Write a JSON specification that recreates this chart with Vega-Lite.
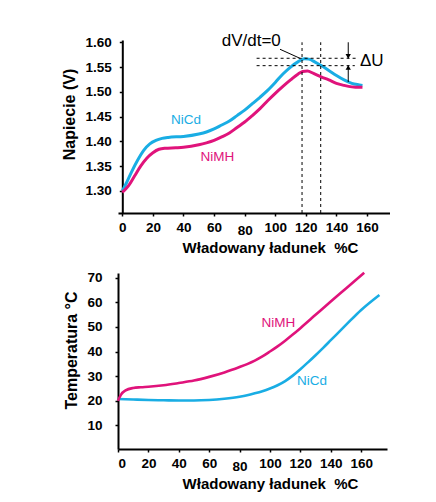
{
  "$schema": "https://vega.github.io/schema/vega-lite/v6.json",
  "background": "white",
  "padding": {"left": 61, "top": 31, "right": 0, "bottom": 0},
  "spacing": 12,
  "config": {
    "view": {"stroke": null},
    "font": "Liberation Sans",
    "axis": {
      "domainColor": "black", "domainWidth": 2, "tickColor": "black", "tickWidth": 1.5, "tickSize": 3,
      "labelFont": "Liberation Sans", "labelFontSize": 13.5, "labelFontWeight": "bold", "labelColor": "black",
      "titleFont": "Liberation Sans", "titleFontWeight": "bold", "titleColor": "black", "grid": false
    }
  },
  "datasets": {
    "voltage": [
      {"x": 0, "y": 1.300, "s": "NiCd"}, {"x": 3, "y": 1.318, "s": "NiCd"}, {"x": 6, "y": 1.338, "s": "NiCd"}, {"x": 10, "y": 1.362, "s": "NiCd"}, {"x": 14, "y": 1.382, "s": "NiCd"}, {"x": 18, "y": 1.395, "s": "NiCd"}, {"x": 22, "y": 1.402, "s": "NiCd"}, {"x": 26, "y": 1.406, "s": "NiCd"}, {"x": 30, "y": 1.408, "s": "NiCd"}, {"x": 40, "y": 1.410, "s": "NiCd"}, {"x": 50, "y": 1.415, "s": "NiCd"}, {"x": 55, "y": 1.419, "s": "NiCd"}, {"x": 60, "y": 1.425, "s": "NiCd"}, {"x": 65, "y": 1.433, "s": "NiCd"}, {"x": 70, "y": 1.441, "s": "NiCd"}, {"x": 75, "y": 1.452, "s": "NiCd"}, {"x": 80, "y": 1.463, "s": "NiCd"}, {"x": 85, "y": 1.476, "s": "NiCd"}, {"x": 90, "y": 1.489, "s": "NiCd"}, {"x": 95, "y": 1.503, "s": "NiCd"}, {"x": 100, "y": 1.519, "s": "NiCd"}, {"x": 105, "y": 1.536, "s": "NiCd"}, {"x": 110, "y": 1.550, "s": "NiCd"}, {"x": 115, "y": 1.561, "s": "NiCd"}, {"x": 119, "y": 1.567, "s": "NiCd"}, {"x": 122, "y": 1.566, "s": "NiCd"}, {"x": 126, "y": 1.560, "s": "NiCd"}, {"x": 130, "y": 1.553, "s": "NiCd"}, {"x": 135, "y": 1.543, "s": "NiCd"}, {"x": 140, "y": 1.533, "s": "NiCd"}, {"x": 145, "y": 1.524, "s": "NiCd"}, {"x": 150, "y": 1.517, "s": "NiCd"}, {"x": 155, "y": 1.514, "s": "NiCd"}, {"x": 157, "y": 1.513, "s": "NiCd"},
      {"x": 0, "y": 1.297, "s": "NiMH"}, {"x": 4, "y": 1.310, "s": "NiMH"}, {"x": 8, "y": 1.330, "s": "NiMH"}, {"x": 12, "y": 1.350, "s": "NiMH"}, {"x": 16, "y": 1.366, "s": "NiMH"}, {"x": 20, "y": 1.377, "s": "NiMH"}, {"x": 24, "y": 1.384, "s": "NiMH"}, {"x": 28, "y": 1.386, "s": "NiMH"}, {"x": 35, "y": 1.387, "s": "NiMH"}, {"x": 40, "y": 1.388, "s": "NiMH"}, {"x": 45, "y": 1.390, "s": "NiMH"}, {"x": 50, "y": 1.393, "s": "NiMH"}, {"x": 55, "y": 1.397, "s": "NiMH"}, {"x": 60, "y": 1.402, "s": "NiMH"}, {"x": 65, "y": 1.409, "s": "NiMH"}, {"x": 70, "y": 1.417, "s": "NiMH"}, {"x": 75, "y": 1.428, "s": "NiMH"}, {"x": 80, "y": 1.439, "s": "NiMH"}, {"x": 85, "y": 1.452, "s": "NiMH"}, {"x": 90, "y": 1.466, "s": "NiMH"}, {"x": 95, "y": 1.482, "s": "NiMH"}, {"x": 100, "y": 1.497, "s": "NiMH"}, {"x": 105, "y": 1.511, "s": "NiMH"}, {"x": 110, "y": 1.524, "s": "NiMH"}, {"x": 115, "y": 1.536, "s": "NiMH"}, {"x": 118, "y": 1.541, "s": "NiMH"}, {"x": 121, "y": 1.542, "s": "NiMH"}, {"x": 125, "y": 1.537, "s": "NiMH"}, {"x": 130, "y": 1.530, "s": "NiMH"}, {"x": 135, "y": 1.524, "s": "NiMH"}, {"x": 140, "y": 1.517, "s": "NiMH"}, {"x": 145, "y": 1.513, "s": "NiMH"}, {"x": 150, "y": 1.510, "s": "NiMH"}, {"x": 155, "y": 1.509, "s": "NiMH"}, {"x": 157, "y": 1.509, "s": "NiMH"}
    ],
    "temperature": [
      {"x": 0, "y": 20.7, "s": "NiCd"}, {"x": 10, "y": 20.5, "s": "NiCd"}, {"x": 20, "y": 20.3, "s": "NiCd"}, {"x": 30, "y": 20.2, "s": "NiCd"}, {"x": 40, "y": 20.1, "s": "NiCd"}, {"x": 50, "y": 20.1, "s": "NiCd"}, {"x": 60, "y": 20.3, "s": "NiCd"}, {"x": 70, "y": 20.8, "s": "NiCd"}, {"x": 80, "y": 21.6, "s": "NiCd"}, {"x": 85, "y": 22.2, "s": "NiCd"}, {"x": 90, "y": 23.0, "s": "NiCd"}, {"x": 95, "y": 23.9, "s": "NiCd"}, {"x": 100, "y": 25.0, "s": "NiCd"}, {"x": 105, "y": 26.3, "s": "NiCd"}, {"x": 110, "y": 28.0, "s": "NiCd"}, {"x": 115, "y": 30.2, "s": "NiCd"}, {"x": 120, "y": 32.8, "s": "NiCd"}, {"x": 125, "y": 35.6, "s": "NiCd"}, {"x": 130, "y": 38.5, "s": "NiCd"}, {"x": 135, "y": 41.5, "s": "NiCd"}, {"x": 140, "y": 44.6, "s": "NiCd"}, {"x": 150, "y": 50.8, "s": "NiCd"}, {"x": 160, "y": 56.9, "s": "NiCd"}, {"x": 172, "y": 63.0, "s": "NiCd"},
      {"x": 0, "y": 20.0, "s": "NiMH"}, {"x": 2, "y": 22.5, "s": "NiMH"}, {"x": 5, "y": 24.2, "s": "NiMH"}, {"x": 10, "y": 25.2, "s": "NiMH"}, {"x": 15, "y": 25.5, "s": "NiMH"}, {"x": 20, "y": 25.7, "s": "NiMH"}, {"x": 30, "y": 26.3, "s": "NiMH"}, {"x": 40, "y": 27.2, "s": "NiMH"}, {"x": 50, "y": 28.2, "s": "NiMH"}, {"x": 60, "y": 29.7, "s": "NiMH"}, {"x": 70, "y": 31.5, "s": "NiMH"}, {"x": 80, "y": 33.7, "s": "NiMH"}, {"x": 85, "y": 34.9, "s": "NiMH"}, {"x": 90, "y": 36.3, "s": "NiMH"}, {"x": 95, "y": 38.0, "s": "NiMH"}, {"x": 100, "y": 40.0, "s": "NiMH"}, {"x": 105, "y": 42.1, "s": "NiMH"}, {"x": 110, "y": 44.4, "s": "NiMH"}, {"x": 115, "y": 46.9, "s": "NiMH"}, {"x": 120, "y": 49.5, "s": "NiMH"}, {"x": 130, "y": 54.9, "s": "NiMH"}, {"x": 140, "y": 60.3, "s": "NiMH"}, {"x": 150, "y": 65.6, "s": "NiMH"}, {"x": 162, "y": 72.0, "s": "NiMH"}
    ]
  },
  "vconcat": [
    {
      "width": 272,
      "height": 173,
      "encoding": {
        "x": {"field": "x", "type": "quantitative", "scale": {"domain": [-2.81, 175], "nice": false, "zero": false},
          "axis": {"title": "Władowany ładunek\u00a0 %C", "values": [0, 20, 40, 60, 80, 100, 120, 140, 160], "titleFontSize": 15,
            "labelPadding": {"condition": {"test": "datum.value === 80", "value": 7}, "value": 4},
            "titleX": 152, "titleY": 39, "titleBaseline": "alphabetic", "titleAlign": "center"}},
        "y": {"field": "y", "type": "quantitative", "scale": {"domain": [1.2554, 1.6046], "nice": false, "zero": false},
          "axis": {"title": "Napiecie (V)", "values": [1.30, 1.35, 1.40, 1.45, 1.50, 1.55, 1.60], "format": ".2f", "titleFontSize": 16,
            "offset": -4.3, "labelPadding": 8, "titlePadding": 7.5, "titleY": 74}}
      },
      "layer": [
        {"data": {"name": "voltage"}, "mark": {"type": "line", "interpolate": "monotone", "strokeWidth": 3},
          "encoding": {"color": {"field": "s", "type": "nominal", "scale": {"domain": ["NiCd", "NiMH"], "range": ["#19ADE4", "#E0137B"]}, "legend": null}}},
        {"data": {"values": [{"x": 117.5, "y": 1.2554, "y2": 1.60}, {"x": 129.7, "y": 1.2554, "y2": 1.60}]},
          "mark": {"type": "rule", "color": "black", "strokeWidth": 1, "strokeDash": [3, 3]},
          "encoding": {"y2": {"field": "y2"}}},
        {"data": {"values": [{"y": 1.5677, "x": 87.8, "x2": 154}, {"y": 1.5528, "x": 87.8, "x2": 152}]},
          "mark": {"type": "rule", "color": "black", "strokeWidth": 1, "strokeDash": [3, 3]},
          "encoding": {"x2": {"field": "x2"}}},
        {"data": {"values": [{"x": 147.7, "y": 1.600, "y2": 1.5677}, {"x": 147.7, "y": 1.5528, "y2": 1.5198}, {"x": 103.1, "y": 1.5859, "x2": 116.1, "y2": 1.5677}]},
          "mark": {"type": "rule", "color": "black", "strokeWidth": 1},
          "encoding": {"x2": {"field": "x2"}, "y2": {"field": "y2"}}},
        {"data": {"values": [{"x": 147.7, "y": 1.5715, "d": "triangle-down"}, {"x": 147.7, "y": 1.5490, "d": "triangle-up"}]},
          "mark": {"type": "point", "filled": true, "color": "black", "size": 28, "opacity": 1},
          "encoding": {"shape": {"field": "d", "type": "nominal", "scale": null}}},
        {"data": {"values": [{"x": 84.3, "y": 1.603, "t": "dV/dt=0"}]},
          "mark": {"type": "text", "fontSize": 17, "align": "center", "baseline": "middle", "color": "black"},
          "encoding": {"text": {"field": "t"}}},
        {"data": {"values": [{"x": 155.4, "y": 1.5626, "t": "ΔU"}]},
          "mark": {"type": "text", "fontSize": 17, "align": "left", "baseline": "middle", "color": "black"},
          "encoding": {"text": {"field": "t"}}},
        {"data": {"values": [{"x": 41.6, "y": 1.443, "t": "NiCd"}, {"x": 62.2, "y": 1.368, "t": "NiMH"}]},
          "mark": {"type": "text", "fontSize": 13.5, "align": "center", "baseline": "middle"},
          "encoding": {"text": {"field": "t"}, "color": {"field": "t", "type": "nominal", "scale": {"domain": ["NiCd", "NiMH"], "range": ["#19ADE4", "#E0137B"]}, "legend": null}}}
      ]
    },
    {
      "width": 269,
      "height": 176,
      "encoding": {
        "x": {"field": "x", "type": "quantitative", "scale": {"domain": [0, 177], "nice": false, "zero": false},
          "axis": {"title": "Władowany ładunek\u00a0 %C", "values": [0, 20, 40, 60, 80, 100, 120, 140, 160], "titleFontSize": 15,
            "labelPadding": {"condition": {"test": "datum.value === 80", "value": 7}, "value": 4},
            "titleX": 152, "titleY": 39.5, "titleBaseline": "alphabetic", "titleAlign": "center"}},
        "y": {"field": "y", "type": "quantitative", "scale": {"domain": [0.4, 71.9], "nice": false, "zero": false},
          "axis": {"title": "Temperatura °C", "values": [10, 20, 30, 40, 50, 60, 70], "titleFontSize": 16,
            "labelPadding": 13, "titlePadding": 7, "titleY": 77}}
      },
      "layer": [
        {"data": {"name": "temperature"}, "mark": {"type": "line", "interpolate": "monotone", "strokeWidth": 2.6},
          "encoding": {"color": {"field": "s", "type": "nominal", "scale": {"domain": ["NiCd", "NiMH"], "range": ["#19ADE4", "#E0137B"]}, "legend": null}}},
        {"data": {"values": [{"x": 105.6, "y": 51.7, "t": "NiMH"}, {"x": 127.6, "y": 28.0, "t": "NiCd"}]},
          "mark": {"type": "text", "fontSize": 13.5, "align": "center", "baseline": "middle"},
          "encoding": {"text": {"field": "t"}, "color": {"field": "t", "type": "nominal", "scale": {"domain": ["NiCd", "NiMH"], "range": ["#19ADE4", "#E0137B"]}, "legend": null}}}
      ]
    }
  ],
  "resolve": {"scale": {"color": "shared"}}
}
